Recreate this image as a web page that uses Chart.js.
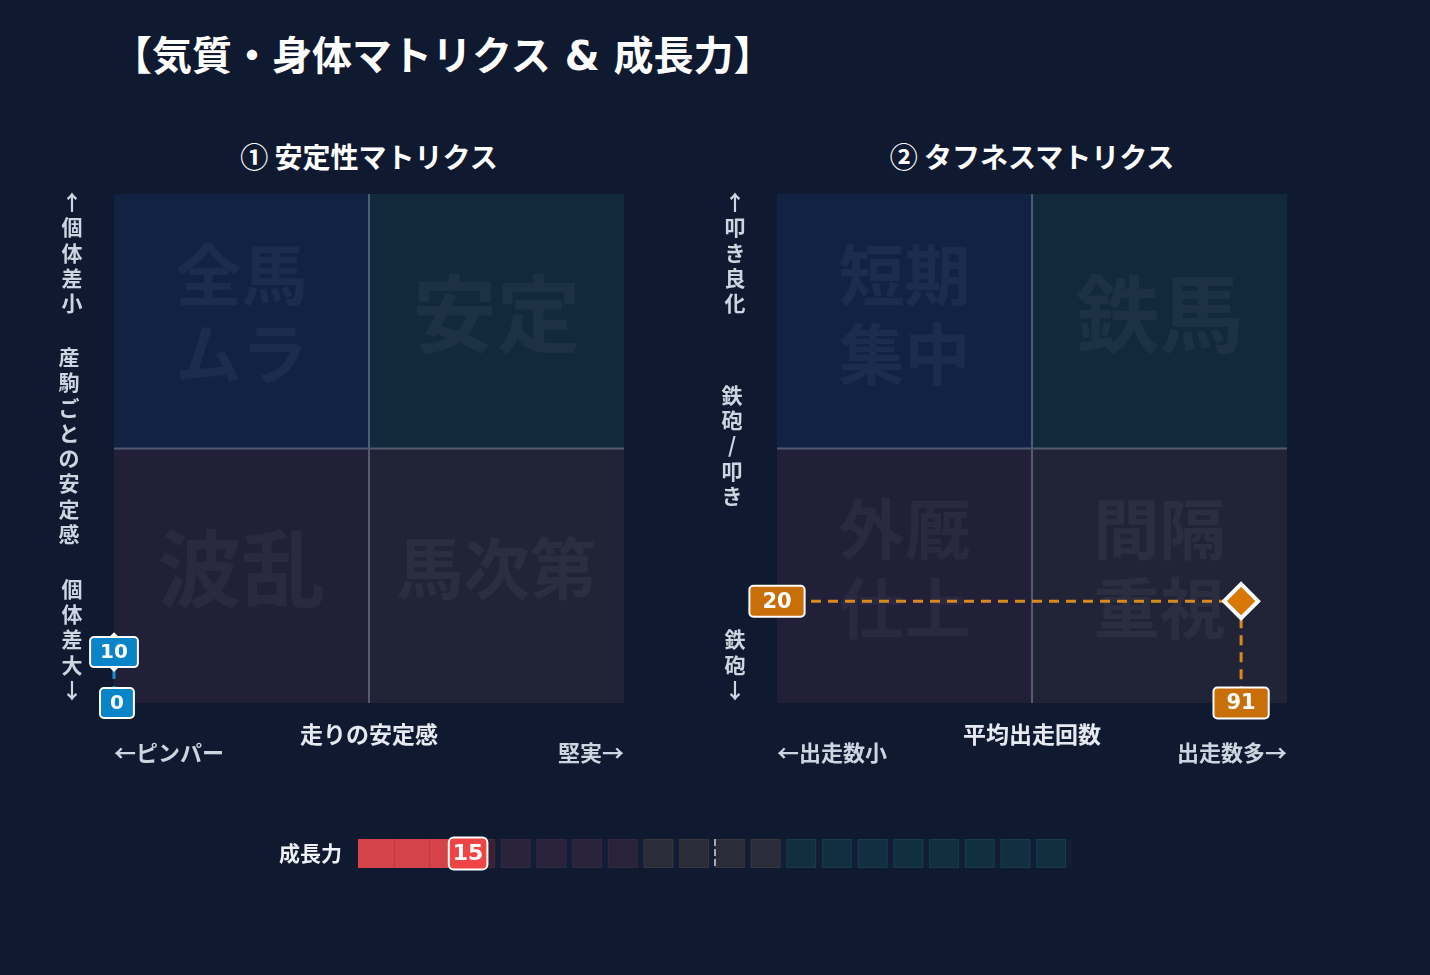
<!DOCTYPE html>
<html>
<head>
<meta charset="utf-8">
<script src="https://cdn.jsdelivr.net/npm/chart.js@4.4.1/dist/chart.umd.min.js"></script>
<style>
  body { margin: 0; background: #0f1930; width: 1430px; height: 975px; overflow: hidden; position: relative;
         font-family: "Noto Sans CJK JP", "DejaVu Sans", sans-serif; }
  h1 { position: absolute; left: 112px; top: 25px; margin: 0; font-size: 40px; font-weight: bold; color: #fff; line-height: 56px; white-space: nowrap; }
  h1 .amp { font-family: "DejaVu Sans", sans-serif; }
  .sub { position: absolute; top: 137px; width: 600px; text-align: center; font-size: 28px; font-weight: bold; color: #fff; line-height: 38px; }
  canvas { position: absolute; }
</style>
</head>
<body>
<h1>【気質・身体マトリクス<span class="amp"> &amp; </span>成長力】</h1>
<div class="sub" style="left:69px">① 安定性マトリクス</div>
<div class="sub" style="left:732px">② タフネスマトリクス</div>
<canvas id="stability" width="700" height="700" style="left:0;top:100px"></canvas>
<canvas id="toughness" width="700" height="700" style="left:700px;top:100px"></canvas>
<canvas id="growth" width="850" height="70" style="left:250px;top:820px"></canvas>
<script>
// 値
const stabilityX = [0];
const stabilityY = [10];
const toughnessX = [91];
const toughnessY = [20];
const growthValue = [15];
const growthAverage = 50;
const gaugeZoneEdges = [0, 20, 40, 60, 100];
const gaugeStep = 5;

// ラベル (左上, 右上, 左下, 右下)
const stabilityQuadrants = ["全馬\nムラ", "安定", "波乱", "馬次第"];
const toughnessQuadrants = ["短期\n集中", "鉄馬", "外厩\n仕上", "間隔\n重視"];
const stabilityYLabels = ["↑個体差小", "産駒ごとの安定感", "個体差大↓"];
const toughnessYLabels = ["↑叩き良化", "鉄砲/叩き", "鉄砲↓"];
const stabilityXLabels = ["←ピンパー", "走りの安定感", "堅実→"];
const toughnessXLabels = ["←出走数小", "平均出走回数", "出走数多→"];

const quadrantColors = ["#122243", "#12283b", "#221f38", "#212437"];
const jpFont = '"Noto Sans CJK JP", sans-serif';
const numFont = '"DejaVu Sans", sans-serif';

function roundBox(ctx, cx, cy, w, h, fill) {
    ctx.save();
    ctx.beginPath();
    ctx.roundRect(cx - w / 2, cy - h / 2, w, h, 4);
    ctx.fillStyle = fill;
    ctx.fill();
    ctx.lineWidth = 2;
    ctx.strokeStyle = "#ffffff";
    ctx.stroke();
    ctx.restore();
}

function matrixPlugin(opts) {
    return {
        id: "matrix",
        beforeDatasetsDraw(chart) {
            const { ctx, chartArea: a, scales: { x, y } } = chart;
            const mx = x.getPixelForValue(50), my = y.getPixelForValue(50);
            const rects = [
                [a.left, a.top, mx, my], [mx, a.top, a.right, my],
                [a.left, my, mx, a.bottom], [mx, my, a.right, a.bottom]
            ];
            ctx.save();
            rects.forEach((r, i) => {
                ctx.fillStyle = quadrantColors[i];
                ctx.fillRect(r[0], r[1], r[2] - r[0], r[3] - r[1]);
                // watermark
                const lines = opts.quadrants[i].split("\n");
                const maxChars = Math.max(...lines.map((l) => l.length));
                const size = lines.length > 1 ? 66 : Math.min(84, 200 / maxChars);
                ctx.font = `bold ${size}px ${jpFont}`;
                ctx.fillStyle = "rgba(200,215,240,0.055)";
                ctx.textAlign = "center";
                ctx.textBaseline = "middle";
                const cx = (r[0] + r[2]) / 2, cy = (r[1] + r[3]) / 2 - 7;
                const lh = 79;
                lines.forEach((l, k) => {
                    ctx.fillText(l, cx, cy + (k - (lines.length - 1) / 2) * lh);
                });
            });
            // center lines
            ctx.strokeStyle = "rgba(150,162,185,0.45)";
            ctx.lineWidth = 2;
            ctx.beginPath();
            ctx.moveTo(mx, a.top); ctx.lineTo(mx, a.bottom);
            ctx.moveTo(a.left, my); ctx.lineTo(a.right, my);
            ctx.stroke();

            // guide lines
            const pts = chart.data.datasets[0].data;
            ctx.setLineDash([10, 7]);
            ctx.lineWidth = 3;
            ctx.strokeStyle = opts.lineColor;
            pts.forEach((p) => {
                const px = x.getPixelForValue(p.x), py = y.getPixelForValue(p.y);
                ctx.beginPath();
                ctx.moveTo(a.left, py); ctx.lineTo(px, py);
                ctx.moveTo(px, py); ctx.lineTo(px, a.bottom);
                ctx.stroke();
            });
            ctx.restore();
        },
        afterDatasetsDraw(chart) {
            const { ctx, chartArea: a, scales: { x, y } } = chart;
            const pts = chart.data.datasets[0].data;
            ctx.save();
            ctx.font = `bold ${opts.numSize}px ${numFont}`;
            ctx.textAlign = "center";
            ctx.textBaseline = "middle";
            pts.forEach((p) => {
                const px = x.getPixelForValue(p.x), py = y.getPixelForValue(p.y);
                const ty = String(p.y), tx = String(p.x);
                const h = opts.numSize + 10;
                let w = ctx.measureText(ty).width + opts.pad * 2;
                roundBox(ctx, a.left, py, w, h, opts.boxColor);
                ctx.fillStyle = "#fff";
                ctx.fillText(ty, a.left, py + 1);
                w = ctx.measureText(tx).width + opts.pad * 2;
                const bx = Math.max(px, a.left + w / 2 - 14);
                roundBox(ctx, bx, a.bottom, w, h, opts.boxColor);
                ctx.fillStyle = "#fff";
                ctx.fillText(tx, bx, a.bottom + 1);
            });

            // y axis labels (vertical)
            ctx.font = `bold 21px ${jpFont}`;
            ctx.fillStyle = "#cdd5e1";
            const step = 25.3;
            const [top, mid, bot] = opts.yLabels;
            [...top].forEach((c, i) => ctx.fillText(c, a.left - 42, a.top + 8 + i * step));
            const midC = (a.top + a.bottom) / 2 - 3;
            [...mid].forEach((c, i) => ctx.fillText(c, a.left - 45, midC + (i - (mid.length - 1) / 2) * step));
            [...bot].forEach((c, i) => ctx.fillText(c, a.left - 42, a.bottom - 13 - (bot.length - 1 - i) * step));

            // x axis labels
            const [xl, xt, xr] = opts.xLabels;
            ctx.fillStyle = "#e6eaf0";
            ctx.font = `bold 23px ${jpFont}`;
            ctx.fillText(xt, (a.left + a.right) / 2, a.bottom + 31);
            ctx.fillStyle = "#cdd5e1";
            ctx.font = `bold 22px ${jpFont}`;
            ctx.textAlign = "left";
            ctx.fillText(xl, a.left, a.bottom + 50);
            ctx.textAlign = "right";
            ctx.fillText(xr, a.right, a.bottom + 50);
            ctx.restore();
        }
    };
}

function makeMatrix(id, xs, ys, opts, padding) {
    return new Chart(document.getElementById(id), {
        type: "scatter",
        data: {
            datasets: [{
                data: xs.map((v, i) => ({ x: v, y: ys[i] })),
                pointStyle: "rectRot",
                pointRadius: 17,
                pointHoverRadius: 17,
                backgroundColor: opts.pointColor,
                borderColor: "#ffffff",
                borderWidth: 4,
                clip: false
            }]
        },
        options: {
            responsive: false,
            animation: false,
            layout: { padding },
            plugins: { legend: { display: false }, tooltip: { enabled: false } },
            scales: {
                x: { display: false, min: 0, max: 100 },
                y: { display: false, min: 0, max: 100 }
            }
        },
        plugins: [matrixPlugin(opts)]
    });
}

makeMatrix("stability", stabilityX, stabilityY, {
    quadrants: stabilityQuadrants, yLabels: stabilityYLabels, xLabels: stabilityXLabels,
    pointColor: "#0a84c8", boxColor: "#0a84c8", lineColor: "#1a8fd0", numSize: 20, pad: 10
}, { left: 114, top: 94, right: 76, bottom: 97 });

makeMatrix("toughness", toughnessX, toughnessY, {
    quadrants: toughnessQuadrants, yLabels: toughnessYLabels, xLabels: toughnessXLabels,
    pointColor: "#d97706", boxColor: "#c96f0a", lineColor: "#d98a1f", numSize: 21, pad: 13
}, { left: 77, top: 94, right: 113, bottom: 97 });

// 成長力ゲージ
function zoneColor(v) {
    if (v < gaugeZoneEdges[1]) return ["#3a2030", "#4a2838"];
    if (v < gaugeZoneEdges[2]) return ["#28223a", "#342840"];
    if (v < gaugeZoneEdges[3]) return ["#2a2d38", "#38363a"];
    return ["#122f40", "#173c4a"];
}

const gaugePlugin = {
    id: "gauge",
    beforeDatasetsDraw(chart) {
        const { ctx, chartArea: a, scales: { x } } = chart;
        ctx.save();
        ctx.fillStyle = "#121d37";
        ctx.fillRect(a.left, a.top, a.right - a.left, a.bottom - a.top);
        const last = gaugeZoneEdges[gaugeZoneEdges.length - 1];
        for (let v = 0; v < last; v += gaugeStep) {
            const x0 = x.getPixelForValue(v), x1 = x.getPixelForValue(v + gaugeStep) - 6;
            const [f, b] = zoneColor(v);
            ctx.fillStyle = f;
            ctx.fillRect(x0, a.top, x1 - x0, a.bottom - a.top);
            ctx.strokeStyle = b;
            ctx.lineWidth = 1;
            ctx.strokeRect(x0 + 0.5, a.top + 0.5, x1 - x0 - 1, a.bottom - a.top - 1);
        }
        ctx.restore();
    },
    afterDatasetsDraw(chart) {
        const { ctx, chartArea: a, scales: { x } } = chart;
        ctx.save();
        // faint cell lines on the filled part
        ctx.strokeStyle = "rgba(120,30,40,0.25)";
        ctx.lineWidth = 1;
        for (let v = gaugeStep; v < growthValue[0]; v += gaugeStep) {
            const px = Math.round(x.getPixelForValue(v)) + 0.5;
            ctx.beginPath(); ctx.moveTo(px, a.top); ctx.lineTo(px, a.bottom); ctx.stroke();
        }
        // average marker
        const ax = x.getPixelForValue(growthAverage);
        ctx.strokeStyle = "#a3a9b5";
        ctx.lineWidth = 2;
        ctx.setLineDash([7, 3]);
        ctx.beginPath(); ctx.moveTo(ax, a.top); ctx.lineTo(ax, a.bottom); ctx.stroke();
        ctx.setLineDash([]);
        // value label
        const vx = x.getPixelForValue(growthValue[0]) + 3;
        const cy = (a.top + a.bottom) / 2;
        ctx.font = `bold 22px ${numFont}`;
        const w = ctx.measureText(String(growthValue[0])).width + 8;
        ctx.beginPath();
        ctx.roundRect(vx - w / 2, cy - 16, w, 32, 5);
        ctx.fillStyle = "#ef4444";
        ctx.fill();
        ctx.lineWidth = 2;
        ctx.strokeStyle = "#ffffff";
        ctx.stroke();
        ctx.fillStyle = "#fff";
        ctx.textAlign = "center";
        ctx.textBaseline = "middle";
        ctx.fillText(String(growthValue[0]), vx, cy + 1);
        // title
        ctx.font = `bold 21px ${jpFont}`;
        ctx.textAlign = "right";
        ctx.fillStyle = "#eef1f5";
        ctx.fillText(chart.data.labels[0], a.left - 16, cy);
        ctx.restore();
    }
};

new Chart(document.getElementById("growth"), {
    type: "bar",
    data: {
        labels: ["成長力"],
        datasets: [{
            data: growthValue,
            backgroundColor: "#d5434a",
            borderWidth: 0,
            barPercentage: 1,
            categoryPercentage: 1
        }]
    },
    options: {
        indexAxis: "y",
        responsive: false,
        animation: false,
        layout: { padding: { left: 108, top: 19, right: 28, bottom: 22 } },
        plugins: { legend: { display: false }, tooltip: { enabled: false } },
        scales: {
            x: { display: false, min: 0, max: 100 },
            y: { display: false }
        }
    },
    plugins: [gaugePlugin]
});
</script>
</body>
</html>
